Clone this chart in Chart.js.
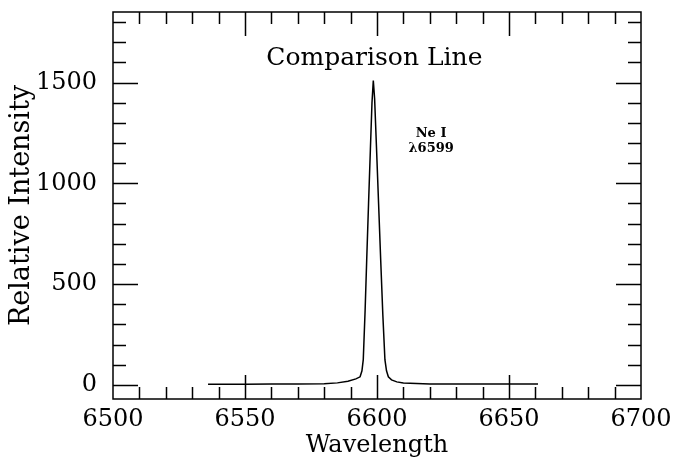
<!DOCTYPE html>
<html>
<head>
<meta charset="utf-8">
<script src="https://cdn.jsdelivr.net/npm/chart.js@4/dist/chart.umd.min.js"></script>
<style>
html, body { margin: 0; padding: 0; background: #fff; }
#wrap { width: 673px; height: 457px; }
</style>
</head>
<body>
<div id="wrap"><canvas id="spectrum"></canvas></div>
<script>
// spectrum
const wavelength = [6536, 6550, 6560, 6570, 6580, 6585, 6589, 6592, 6593.6, 6594.3, 6594.8,
    6595.5, 6596.1, 6596.8, 6597.5, 6598.1, 6598.6, 6599.1, 6599.8, 6600.6, 6601.4,
    6602.2, 6603, 6603.6, 6604.3, 6605.5, 6607.5, 6610, 6620, 6640, 6661];
const intensity = [3, 3, 4, 5, 6, 10, 18, 30, 40, 70, 125,
    370, 620, 900, 1170, 1400, 1510, 1420, 1180, 900, 620,
    350, 125, 70, 40, 25, 15, 9, 5, 4, 4];
const xTickLabels = [6500, 6550, 6600, 6650, 6700];
const yTickLabels = [0, 500, 1000, 1500];
const xRange = [6500, 6700];
const yRange = [-70, 1850];

const serif = '"DejaVu Serif", serif';

// ticks pointing inward on all four sides, plus the text inside the box
const frameTicks = {
    id: 'frameTicks',
    afterDraw: function (chart) {
        const ctx = chart.ctx;
        const a = chart.chartArea;
        const xs = chart.scales.x;
        const ys = chart.scales.y;
        ctx.save();
        ctx.strokeStyle = '#000';
        ctx.lineWidth = 1.5;
        ctx.beginPath();
        for (let v = xRange[0] + 10; v < xRange[1]; v += 10) {
            const px = Math.round(xs.getPixelForValue(v)) + 0.5;
            const len = v % 50 === 0 ? 24 : 12;
            ctx.moveTo(px, a.bottom); ctx.lineTo(px, a.bottom - len);
            ctx.moveTo(px, a.top); ctx.lineTo(px, a.top + len);
        }
        for (let v = 0; v < yRange[1]; v += 100) {
            const py = Math.round(ys.getPixelForValue(v)) + 0.5;
            const len = v % 500 === 0 ? 25 : 13;
            ctx.moveTo(a.left, py); ctx.lineTo(a.left + len, py);
            ctx.moveTo(a.right, py); ctx.lineTo(a.right - len, py);
        }
        ctx.stroke();
        ctx.strokeRect(a.left, a.top, a.right - a.left, a.bottom - a.top);

        ctx.fillStyle = '#000';
        ctx.textAlign = 'center';
        ctx.textBaseline = 'middle';
        ctx.font = '25px ' + serif;
        ctx.fillText('Comparison Line', xs.getPixelForValue(6599), ys.getPixelForValue(1620));
        ctx.font = 'bold 13px ' + serif;
        const lx = xs.getPixelForValue(6620.5);
        ctx.fillText('Ne I', lx, ys.getPixelForValue(1245));
        ctx.fillText('\u03bb6599', lx, ys.getPixelForValue(1170));
        ctx.restore();
    }
};

new Chart(document.getElementById('spectrum'), {
    type: 'scatter',
    data: {
        datasets: [{
            data: wavelength.map(function (w, i) { return { x: w, y: intensity[i] }; }),
            showLine: true,
            borderColor: '#000',
            borderWidth: 1.5,
            pointRadius: 0,
            tension: 0
        }]
    },
    options: {
        responsive: true,
        maintainAspectRatio: false,
        animation: false,
        layout: { padding: { top: 12, right: 32, left: 0, bottom: 0 } },
        plugins: { legend: { display: false }, tooltip: { enabled: false } },
        scales: {
            x: {
                type: 'linear',
                min: xRange[0],
                max: xRange[1],
                afterBuildTicks: function (s) { s.ticks = xTickLabels.map(function (v) { return { value: v }; }); },
                afterFit: function (s) { s.height = 58; s.paddingLeft = 0; s.paddingRight = 0; },
                grid: { display: false },
                border: { display: false },
                ticks: { color: '#000', font: { family: serif, size: 24 }, padding: -2, maxRotation: 0,
                    callback: function (v) { return String(v); } },
                title: { display: true, text: 'Wavelength', color: '#000', font: { family: serif, size: 24 }, padding: { top: 0, bottom: -3 } }
            },
            y: {
                type: 'linear',
                min: yRange[0],
                max: yRange[1],
                afterBuildTicks: function (s) { s.ticks = yTickLabels.map(function (v) { return { value: v }; }); },
                afterFit: function (s) { s.width = 113; s.paddingTop = 0; s.paddingBottom = 0; },
                grid: { display: false },
                border: { display: false },
                ticks: { color: '#000', font: { family: serif, size: 24 }, padding: 8,
                    callback: function (v) { return String(v); } },
                title: { display: true, text: 'Relative Intensity', color: '#000', font: { family: serif, size: 27 }, padding: { top: 6, bottom: 0 } }
            }
        }
    },
    plugins: [frameTicks]
});
</script>
</body>
</html>
